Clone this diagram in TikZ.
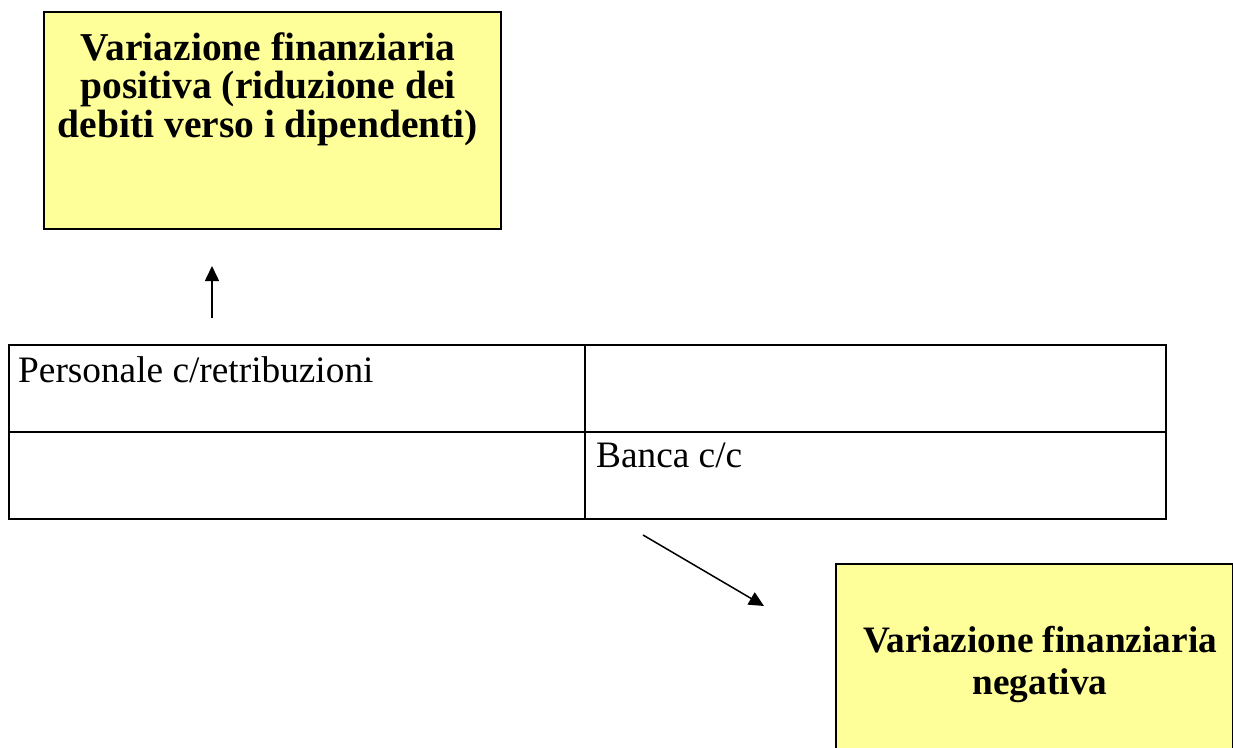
\documentclass[tikz,border=0pt]{standalone}
\usepackage{fontspec}
\setmainfont{Liberation Serif}
\usetikzlibrary{positioning,arrows.meta}
\definecolor{notepaper}{HTML}{FFFF99}

\begin{document}
\begin{tikzpicture}[x=1pt,y=-1pt,
    notebox/.style={draw, line width=2pt, fill=notepaper, inner sep=0pt},
    cell/.style={draw, line width=2pt, inner sep=0pt, minimum height=87pt},
    boxtext/.style={font=\bfseries\fontsize{39.5}{38.5}\selectfont, align=center, inner sep=0pt},
    celltext/.style={font=\fontsize{37.3}{40}\selectfont, inner sep=0pt, anchor=base west},
    flow/.style={line width=1.5pt, -{Triangle[length=15pt,width=14pt]}}]
    \useasboundingbox (0,0) rectangle (1233,747);

    % Boxes
    \node[notebox, minimum width=457pt, minimum height=217pt] (pos) at (272.5,120.5) {};
    \node[boxtext, anchor=north] (postext) at (268,32)
        {Variazione finanziaria\\positiva (riduzione dei\\debiti verso i dipendenti)};
    \node[notebox, minimum width=397pt, minimum height=210pt] (neg) at (1034,669) {};
    \node[boxtext, anchor=north, font=\bfseries\fontsize{37.3}{42}\selectfont] (negtext) at (1040,626)
        {Variazione finanziaria\\negativa};

    % Table
    \node[cell, minimum width=576pt] (dare1) at (297,388.5) {};
    \node[cell, minimum width=581pt] (avere1) at (875.5,388.5) {};
    \node[cell, minimum width=576pt] (dare2) at (297,475.5) {};
    \node[cell, minimum width=581pt] (avere2) at (875.5,475.5) {};
    \node[celltext] (personale) at (18,382) {Personale c/retribuzioni};
    \node[celltext] (banca) at (596,467) {Banca c/c};

    % Arrows
    \coordinate (upstart) at (212,318);
    \coordinate (upend) at (212,266);
    \coordinate (downstart) at (643,535);
    \coordinate (downend) at (764,606);
    \draw[flow] (upstart) -- (upend);
    \draw[flow] (downstart) -- (downend);

\end{tikzpicture}
\end{document}
